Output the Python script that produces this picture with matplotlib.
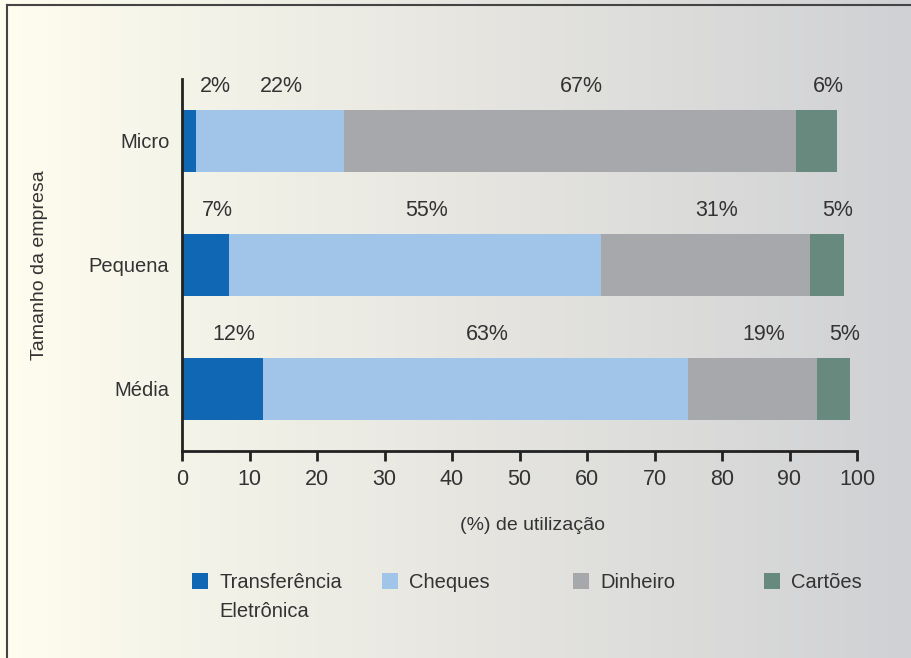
import numpy as np
import matplotlib
matplotlib.use("Agg")
import matplotlib.pyplot as plt
from matplotlib.patches import Rectangle
from matplotlib.lines import Line2D

plt.rcParams['font.family'] = ['Liberation Sans', 'DejaVu Sans']

categories = ["Micro", "Pequena", "Média"]
series_names = ["Transferência\nEletrônica", "Cheques", "Dinheiro", "Cartões"]
transferencia = [2, 7, 12]
cheques = [22, 55, 63]
dinheiro = [67, 31, 19]
cartoes = [6, 5, 5]
series = [transferencia, cheques, dinheiro, cartoes]
colors = ["#1068B4", "#A0C5E8", "#A7A8AB", "#688A7E"]
xticks = [0, 10, 20, 30, 40, 50, 60, 70, 80, 90, 100]
text_color = "#333333"

W, H = 911, 658
fig = plt.figure(figsize=(W / 100, H / 100), dpi=100)

# gradient background
bg = fig.add_axes([0, 0, 1, 1], zorder=-10)
stops = np.array([[254, 253, 238], [231, 230, 225], [208, 209, 212]]) / 255.0
t = np.linspace(0, 1, 512)
grad = np.empty((1, 512, 3))
for c in range(3):
    grad[0, :, c] = np.interp(t, [0, 0.5, 1], stops[:, c])
bg.imshow(grad, aspect='auto', extent=[0, 1, 0, 1])
bg.set_xlim(0, 1)
bg.set_ylim(0, 1)
bg.axis('off')
# border (top and left)
bg.add_line(Line2D([7 / W, 7 / W], [0, 1 - 5 / H], color="#444444", lw=1.5))
bg.add_line(Line2D([7 / W, 1], [1 - 5 / H, 1 - 5 / H], color="#444444", lw=1.5))

ax = fig.add_axes([182 / W, 1 - 451 / H, 675 / W, 372 / H])
ax.set_facecolor('none')

y = np.arange(len(categories))
left = np.zeros(len(categories))
for vals, col in zip(series, colors):
    vals = np.array(vals, dtype=float)
    ax.barh(y, vals, left=left, height=0.5, color=col, linewidth=0)
    for i, v in enumerate(vals):
        cx = max(left[i] + v / 2 + 1.7, 4.9)
        ax.text(cx, y[i] - 0.44, f"{int(v)}%", ha='center', va='center',
                fontsize=15.5, color=text_color)
    left += vals

ax.set_xlim(0, 100)
ax.set_ylim(len(categories) - 0.5, -0.5)
ax.set_yticks(y)
ax.set_yticklabels(categories)
ax.set_xticks(xticks)
ax.set_xticklabels([str(v) for v in xticks])
for s in ['top', 'right']:
    ax.spines[s].set_visible(False)
for s in ['left', 'bottom']:
    ax.spines[s].set_linewidth(2)
    ax.spines[s].set_color("#222222")
ax.tick_params(axis='y', length=0, pad=9, labelsize=14.5, labelcolor=text_color)
ax.tick_params(axis='x', length=7, width=2, color="#222222", pad=6,
               labelsize=15.5, labelcolor=text_color)

ax.set_xlabel("(%) de utilização", fontsize=14, color=text_color)
ax.xaxis.set_label_coords((533 - 182) / 675, (451 - 525) / 372)
ax.set_ylabel("Tamanho da empresa", fontsize=14, color=text_color)
ax.yaxis.set_label_coords((40 - 182) / 675, 0.5)
ax.xaxis.label.set_va('center')
ax.yaxis.label.set_va('center')

# custom legend
leg_x = [192, 382, 573, 764]
sq = 16
for xpx, name, col in zip(leg_x, series_names, colors):
    fig.patches.append(Rectangle((xpx / W, 1 - 589 / H), sq / W, sq / H,
                                 transform=fig.transFigure, color=col,
                                 linewidth=0))
    fig.text((xpx + 27) / W, 1 - 573 / H, name, ha='left', va='top',
             fontsize=14.5, color=text_color, linespacing=1.65,
             transform=fig.transFigure)

fig.savefig("out.png", dpi=100)
